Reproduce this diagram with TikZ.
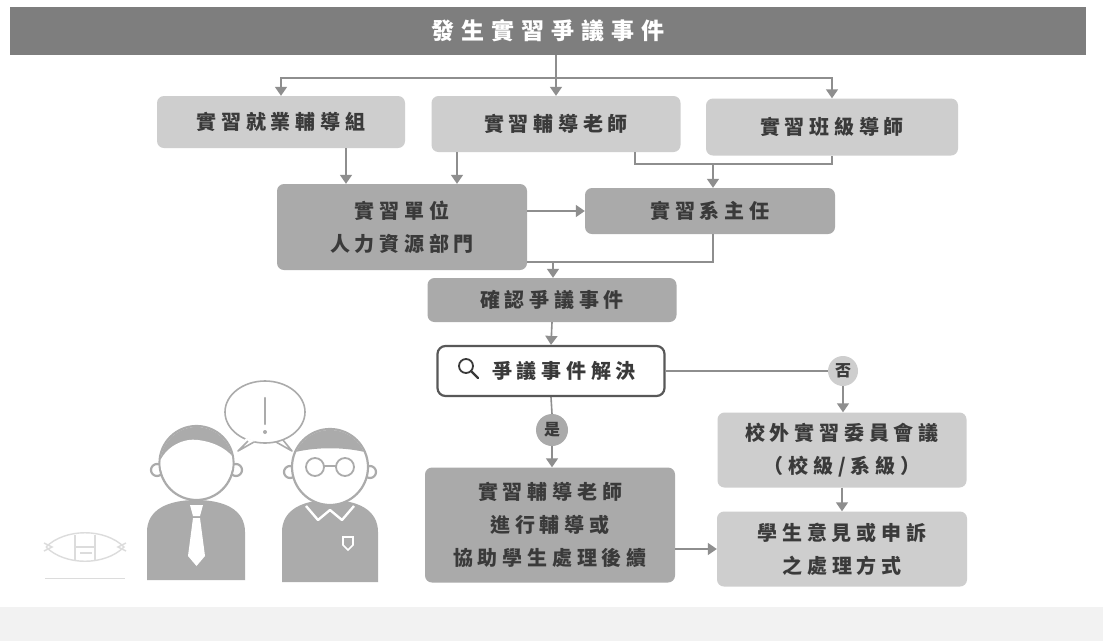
\documentclass[tikz,border=0pt]{standalone}
\usepackage{fontspec}
\newfontfamily\cjk[LetterSpace=24]{Noto Sans CJK TC}
\newfontfamily\cjktitle[LetterSpace=30]{Noto Sans CJK TC}
\usetikzlibrary{arrows.meta,calc}

\definecolor{bannergray}{HTML}{7E7E7E}
\definecolor{paleboxgray}{HTML}{CECECE}
\definecolor{deepboxgray}{HTML}{AAAAAA}
\definecolor{wiregray}{HTML}{8E8E8E}
\definecolor{inkgray}{HTML}{3A3A3A}
\definecolor{figgray}{HTML}{ABABAB}
\definecolor{logogray}{HTML}{DCDCDC}

\tikzset{
  flowbox/.style={rectangle, rounded corners=7pt, inner sep=0pt, text=inkgray,
    font=\cjk\fontsize{20}{33}\selectfont\bfseries, align=center},
  palebox/.style={flowbox, fill=paleboxgray},
  deepbox/.style={flowbox, fill=deepboxgray},
  decisionbox/.style={flowbox, fill=white, draw=inkgray!85, line width=2.2pt, rounded corners=8pt},
  answerdot/.style={circle, inner sep=0pt, minimum size=32pt, text=inkgray,
    font=\cjk\fontsize{16}{16}\selectfont\bfseries},
  wire/.style={draw=wiregray, line width=1.6pt},
  arrowwire/.style={wire, -{Triangle[width=12pt,length=9pt]}},
  figline/.style={draw=figgray, line width=2.2pt},
}

\begin{document}
\begin{tikzpicture}[x=1pt,y=-1pt]
\useasboundingbox (0,0) rectangle (1103,641);
\fill[white] (0,0) rectangle (1103,641);
\fill[gray!10] (0,607) rectangle (1103,641);

% ---------- boxes ----------
\node[fill=bannergray, minimum width=1076pt, minimum height=48pt, inner sep=0pt,
      text=white, font=\cjktitle\fontsize{23}{23}\selectfont\bfseries] (title) at (548,31) {發生實習爭議事件};

\node[palebox, minimum width=248pt, minimum height=52pt] (jobgroup) at (281,122) {實習就業輔導組};
\node[palebox, minimum width=249pt, minimum height=56pt] (advisor) at (556,124) {實習輔導老師};
\node[palebox, minimum width=252pt, minimum height=57pt] (classtutor) at (832,127) {實習班級導師};

\node[deepbox, minimum width=250pt, minimum height=86pt] (hr) at (402,227) {實習單位\\人力資源部門};
\node[deepbox, minimum width=250pt, minimum height=46pt] (chair) at (710,211) {實習系主任};

\node[deepbox, minimum width=249pt, minimum height=44pt] (confirm) at (552,300) {確認爭議事件};
\node[decisionbox, minimum width=227pt, minimum height=50pt] (resolve) at (551,371) {\hspace*{26pt}爭議事件解決};

\node[answerdot, fill=deepboxgray] (yes) at (552,430) {是};
\node[answerdot, fill=paleboxgray, minimum size=30pt] (no) at (843,371) {否};

\node[deepbox, minimum width=250pt, minimum height=115pt] (followup) at (550,525) {實習輔導老師\\進行輔導或\\協助學生處理後續};
\node[palebox, minimum width=249pt, minimum height=75pt] (committee) at (842,450) {校外實習委員會議\\（校級/系級）};
\node[palebox, minimum width=250pt, minimum height=75pt] (appeal) at (842,549) {學生意見或申訴\\之處理方式};

% magnifier icon inside the decision box
\draw[inkgray, line width=1.8pt] (466,366) circle (7pt);
\draw[inkgray, line width=2.2pt, line cap=round] (471,371) -- (478,378);

% ---------- connectors ----------
\coordinate (split) at (551,78);
\draw[arrowwire] (title.south -| advisor.north) -- (advisor.north);
\draw[arrowwire] (split) -| (jobgroup.north);
\draw[arrowwire] (split) -| (classtutor.north);

\draw[arrowwire] (jobgroup.south -| 346,0) -- (hr.north -| 346,0);
\draw[arrowwire] (advisor.south -| 457,0) -- (hr.north -| 457,0);

\coordinate (tutorjoin) at (713,164);
\draw[wire] (advisor.south -| 635,0) |- (classtutor.south |- tutorjoin) -- (classtutor.south);
\draw[arrowwire] (tutorjoin) -- (chair.north -| tutorjoin);

\draw[arrowwire] (hr.east |- chair.west) -- (chair.west);

\coordinate (merge) at (553,262);
\draw[wire] (chair.south -| tutorjoin) |- (hr.east |- merge);
\draw[arrowwire] (merge) -- (confirm.north -| merge);

\draw[arrowwire] (confirm.south) -- (resolve.north);
\draw[wire] (resolve.south) -- (yes.north);
\draw[arrowwire] (yes.south) -- (followup.north -| yes.south);
\draw[wire] (resolve.east) -- (no.west);
\draw[arrowwire] (no.south) -- (committee.north -| no.south);
\draw[arrowwire] (committee.south) -- (appeal.north);
\draw[arrowwire] (followup.east |- appeal.west) -- (appeal.west);

% ---------- two people talking ----------
% speech bubble
\draw[figgray, line width=1.6pt, fill=white]
  (265,412) ellipse [x radius=40, y radius=31];
\fill[white] (246,438) -- (238,451) -- (255,441) -- cycle;
\draw[figgray, line width=1.6pt, line join=round] (248,441) -- (238,451) -- (254,442);
\draw[figgray, line width=1.6pt, line join=round] (276,442) -- (292,451) -- (283,440);
\draw[figgray, line width=2.4pt, line cap=round] (265,398) -- (265,424);
\fill[figgray] (265,432) circle (2pt);

% teacher with tie
\fill[figgray] (147,580) -- (147,532) .. controls (147,510) and (167,500) .. (196,500)
  .. controls (225,500) and (245,510) .. (245,532) -- (245,580) -- cycle;
\fill[white] (190,505) -- (203,505) -- (200,516) -- (193,516) -- cycle;
\fill[white] (193,518) -- (200,518) -- (205,556) -- (196.5,566) -- (188,556) -- cycle;
\draw[figline, fill=white] (157,470) circle (6pt);
\draw[figline, fill=white] (236,470) circle (6pt);
\draw[figline, fill=white] (196.5,463) circle (37pt);
\begin{scope}
  \clip (196.5,463) circle (36pt);
  \fill[figgray] (150,420) rectangle (245,462) ;
  \fill[white] (158,466) .. controls (165,445) and (185,438) .. (198,440)
    .. controls (215,442) and (230,450) .. (236,462) -- (236,470) -- (158,470) -- cycle;
\end{scope}

% student with glasses
\fill[figgray] (282,582) -- (282,532) .. controls (282,510) and (302,500) .. (330,500)
  .. controls (358,500) and (378,510) .. (378,532) -- (378,582) -- cycle;
\draw[white, line width=2.4pt, line join=round] (306,506) -- (318,520) -- (330,510) -- (342,520) -- (354,506);
\draw[white, line width=1.6pt] (343,537) -- (353,537) -- (353,545) -- (348,550) -- (343,545) -- cycle;
\draw[figline, fill=white] (290,472) circle (6pt);
\draw[figline, fill=white] (370,472) circle (6pt);
\draw[figline, fill=white] (330,467) circle (38pt);
\begin{scope}
  \clip (330,467) circle (37pt);
  \fill[figgray] (285,420) -- (375,420) -- (375,455) .. controls (350,446) and (310,446) .. (285,455) -- cycle;
\end{scope}
\draw[figgray, line width=1.8pt] (315,467) circle (9pt);
\draw[figgray, line width=1.8pt] (345,467) circle (9pt);
\draw[figgray, line width=1.8pt] (324,466) -- (336,466);

% emblem
\draw[logogray, line width=1.4pt] (46,547) .. controls (65,528) and (105,528) .. (124,547)
  .. controls (105,566) and (65,566) .. (46,547);
\draw[logogray, line width=1.4pt] (44,543) -- (52,547) -- (44,551);
\draw[logogray, line width=1.4pt] (126,543) -- (118,547) -- (126,551);
\draw[logogray, line width=1.6pt] (75,535) -- (75,560) (75,547) -- (95,547) (95,535) -- (95,560)
  (80,553) -- (92,553);
\draw[logogray, line width=1pt] (45,578) -- (125,578);
\end{tikzpicture}
\end{document}
